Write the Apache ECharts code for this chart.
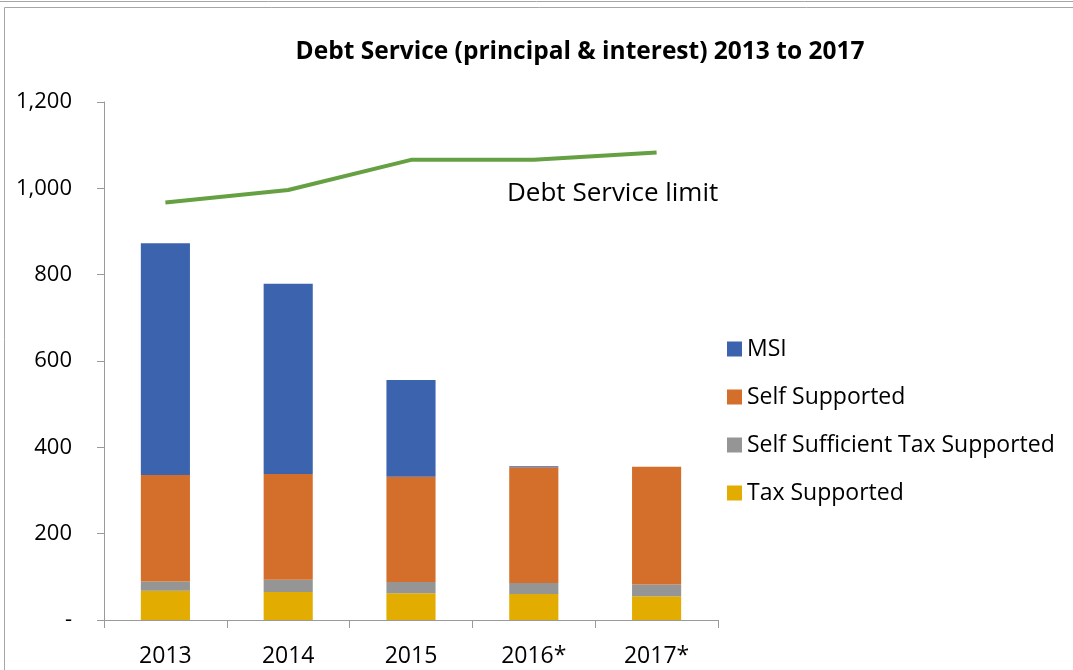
<!DOCTYPE html>
<html>
<head>
<meta charset="utf-8">
<script src="https://cdn.jsdelivr.net/npm/echarts@6/dist/echarts.min.js"></script>
<style>
  html, body { margin: 0; padding: 0; background: #fff; }
  #chart { width: 1073px; height: 670px; }
</style>
</head>
<body>
<div id="chart"></div>
<script>
// Debt service by funding source, $ millions
const years = ['2013', '2014', '2015', '2016*', '2017*'];
const taxSupported = [68, 65, 62, 60, 55];
const selfSufficientTax = [21, 28, 26, 26, 27];
const selfSupported = [247, 245, 244, 268, 273];
const msi = [537, 441, 224, 2, 0];
const debtServiceLimit = [967, 996, 1066, 1066, 1083];

const FONT = '"Open Sans", "Liberation Sans", sans-serif';

const chart = echarts.init(document.getElementById('chart'));

function barSeries(name, data, color) {
  return {
    name: name,
    type: 'bar',
    stack: 'debt',
    data: data,
    barWidth: '40%',
    itemStyle: { color: color },
    emphasis: { disabled: true }
  };
}

chart.setOption({
  animation: false,
  textStyle: { fontFamily: FONT },
  title: {
    text: 'Debt Service (principal & interest) 2013 to 2017',
    left: 575,
    textAlign: 'center',
    top: 35,
    textStyle: { fontFamily: FONT, fontSize: 24.5, fontWeight: 'bold', color: '#000' }
  },
  legend: {
    orient: 'vertical',
    left: 722,
    top: 330,
    itemWidth: 15,
    itemHeight: 15,
    itemGap: 20,
    icon: 'rect',
    textStyle: { fontFamily: FONT, fontSize: 23, lineHeight: 28, color: '#000', padding: [0, 0, 0, 0] },
    data: ['MSI', 'Self Supported', 'Self Sufficient Tax Supported', 'Tax Supported']
  },
  grid: { left: 104, right: 355, top: 102, bottom: 50 },
  xAxis: {
    type: 'category',
    data: years,
    boundaryGap: true,
    axisLine: { lineStyle: { color: '#9a9a9a', width: 1 } },
    axisTick: { show: true, length: 8, alignWithLabel: false, lineStyle: { color: '#9a9a9a' } },
    axisLabel: { color: '#000', fontFamily: FONT, fontSize: 23, margin: 25 }
  },
  yAxis: {
    type: 'value',
    min: 0,
    max: 1200,
    interval: 200,
    splitLine: { show: false },
    axisLine: { show: true, lineStyle: { color: '#9a9a9a', width: 1 } },
    axisTick: { show: true, length: 7, lineStyle: { color: '#9a9a9a' } },
    axisLabel: {
      color: '#000',
      fontFamily: FONT,
      fontSize: 22,
      margin: 32,
      formatter: function (v) { return v === 0 ? '-' : v.toLocaleString('en-US'); }
    }
  },
  graphic: [
    { type: 'line', shape: { x1: 0, y1: 1.5, x2: 1073, y2: 1.5 }, style: { stroke: '#a6a6a6', lineWidth: 1 } },
    { type: 'rect', shape: { x: 4.5, y: 7.5, width: 1080, height: 700 }, style: { fill: 'none', stroke: '#a6a6a6', lineWidth: 1 } },
    {
      type: 'text',
      left: 507,
      top: 181,
      style: { text: 'Debt Service limit', fontFamily: FONT, fontSize: 26, fill: '#000' }
    }
  ],
  series: [
    barSeries('Tax Supported', taxSupported, '#E3AC00'),
    barSeries('Self Sufficient Tax Supported', selfSufficientTax, '#959595'),
    barSeries('Self Supported', selfSupported, '#D46E2B'),
    barSeries('MSI', msi, '#3C64AE'),
    {
      name: 'Debt Service limit',
      type: 'line',
      data: debtServiceLimit,
      symbol: 'none',
      lineStyle: { color: '#65A043', width: 4 },
      emphasis: { disabled: true }
    }
  ]
});
</script>
</body>
</html>
